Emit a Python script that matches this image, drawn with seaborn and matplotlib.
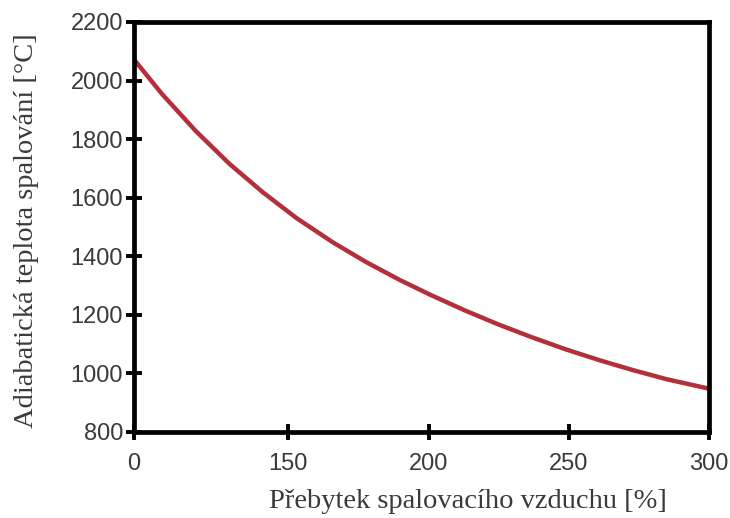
import matplotlib
matplotlib.use("Agg")
import matplotlib.pyplot as plt
import seaborn as sns
import pandas as pd

# Data
excess_air = [95, 105, 117, 129, 141, 153, 166, 178, 190, 201, 213, 225, 237, 249, 261, 273, 285, 300]
temperature = [2072, 1954, 1828, 1716, 1618, 1530, 1447, 1379, 1318, 1267, 1215, 1167, 1123, 1082, 1045, 1011, 980, 948]
x_tick_values = [95, 150, 200, 250, 300]
x_tick_labels = ["0", "150", "200", "250", "300"]
y_tick_values = [800, 1000, 1200, 1400, 1600, 1800, 2000, 2200]

df = pd.DataFrame({"x": excess_air, "y": temperature})

sns.set_theme(style="white")
plt.rcParams["font.family"] = ["Liberation Sans", "DejaVu Sans"]

fig = plt.figure(figsize=(7.3, 5.18), dpi=100)
ax = fig.add_axes([134/730, 1-432/518, (709-134)/730, (432-22)/518])

sns.lineplot(data=df, x="x", y="y", ax=ax, color="#b3303b", linewidth=3.2, sort=False)

ax.set_xlim(95, 300)
ax.set_ylim(800, 2200)
ax.set_xticks(x_tick_values)
ax.set_xticklabels(x_tick_labels)
ax.set_yticks(y_tick_values)
ax.set_yticklabels([str(v) for v in y_tick_values])

for s in ax.spines.values():
    s.set_visible(True)
    s.set_color("black")
    s.set_linewidth(3.4)

ax.tick_params(axis="both", which="both", direction="inout", length=12, width=2.8,
               color="black", labelsize=17, labelcolor="#3a3a3a")
ax.tick_params(axis="y", pad=2, left=True)
ax.tick_params(axis="x", pad=9, bottom=True)

ax.set_xlabel("Přebytek spalovacího vzduchu [%]", family=["Liberation Serif", "DejaVu Serif"],
              fontsize=20.5, color="#3a3a3a")
ax.set_ylabel("Adiabatická teplota spalování [°C]", family=["Liberation Serif", "DejaVu Serif"],
              fontsize=20.5, color="#3a3a3a")
ax.xaxis.set_label_coords((468-134)/575, (432-502)/410)
ax.xaxis.label.set_verticalalignment("center")
ax.yaxis.set_label_coords((27-134)/575, (432-231)/410)
ax.yaxis.label.set_verticalalignment("center")

fig.savefig("out.png", dpi=100, facecolor="white")
